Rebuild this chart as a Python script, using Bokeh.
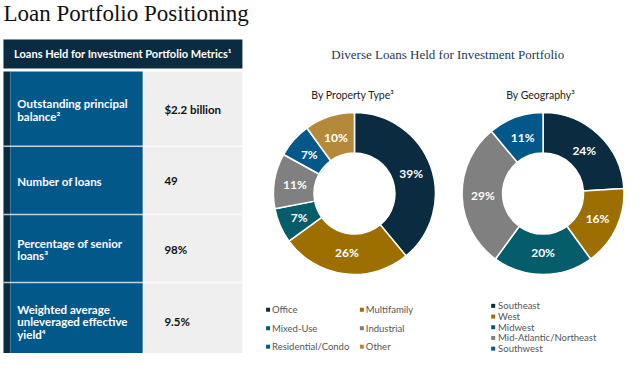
import numpy as np
from bokeh.plotting import figure
from bokeh.models import Range1d
from bokeh.core.properties import value
from bokeh.embed import file_html
from bokeh.resources import INLINE

# ---------------- data ----------------
title = "Loan Portfolio Positioning"
table_header = "Loans Held for Investment Portfolio Metrics\u00b9"
metric_labels = [["Outstanding principal", "balance\u00b2"],
                 ["Number of loans"],
                 ["Percentage of senior", "loans\u00b3"],
                 ["Weighted average", "unleveraged effective", "yield\u2074"]]
metric_values = ["$2.2 billion", "49", "98%", "9.5%"]

chart_title = "Diverse Loans Held for Investment Portfolio"
prop_title = "By Property Type\u00b3"
prop_cats = ["Office", "Multifamily", "Mixed-Use", "Industrial", "Residential/Condo", "Other"]
prop_vals = [39, 26, 7, 11, 7, 10]
geo_title = "By Geography\u00b3"
geo_cats = ["Southeast", "West", "Midwest", "Mid-Atlantic/Northeast", "Southwest"]
geo_vals = [24, 16, 20, 29, 11]

# ---------------- styles ----------------
NAVY = "#0b2b40"
GOLD = "#9c6f00"
TEAL = "#055c6a"
GRAY = "#808080"
BLUE = "#03588a"
LGOLD = "#b5893a"
prop_colors = [NAVY, GOLD, TEAL, GRAY, BLUE, LGOLD]
geo_colors = [NAVY, GOLD, TEAL, GRAY, BLUE]

H = 369.0
def Y(v):
    return H - v

SANS = value("Lato")
SERIF = value("Liberation Serif")

p = figure(width=624, height=353, x_range=Range1d(0, 632), y_range=Range1d(Y(363), Y(0)),
           output_backend="svg", toolbar_location=None, min_border=0)
p.axis.visible = False
p.grid.visible = False
p.outline_line_color = None
p.background_fill_color = "white"
p.border_fill_color = "white"

# title
p.text(x=[3], y=[Y(13)], text=[title], text_font=SERIF, text_font_size="23px",
       text_color="#111111", text_baseline="middle", text_align="left")

# ---------------- table ----------------
p.quad(left=[3], right=[245], top=[Y(40)], bottom=[Y(70)], fill_color=NAVY, line_color=None)
p.text(x=[124], y=[Y(55)], text=[table_header], text_font=SANS, text_font_style="bold",
       text_font_size="11px", text_color="white", text_baseline="middle", text_align="center")

row_edges = [73, 150, 220, 290, 372]
p.quad(left=[3], right=[10], top=[Y(73)], bottom=[Y(372)], fill_color=NAVY, line_color=None)
p.quad(left=[10], right=[144], top=[Y(73)], bottom=[Y(372)], fill_color=BLUE, line_color=None)
p.quad(left=[145], right=[245], top=[Y(73)], bottom=[Y(372)], fill_color="#efefef", line_color=None)
for e in row_edges[1:-1]:
    p.segment(x0=[3], y0=[Y(e)], x1=[245], y1=[Y(e)], line_color="white", line_alpha=0.75, line_width=1.5)

for i, (lines, val) in enumerate(zip(metric_labels, metric_values)):
    c = (row_edges[i] + min(row_edges[i + 1], 369)) / 2.0 + 1
    n = len(lines)
    ys = [Y(c + (k - (n - 1) / 2.0) * 13) for k in range(n)]
    p.text(x=[17] * n, y=ys, text=lines, text_font=SANS, text_font_style="bold",
           text_font_size="11.5px", text_color="white", text_baseline="middle", text_align="left")
    p.text(x=[166], y=[Y(c)], text=[val], text_font=SANS, text_font_style="bold",
           text_font_size="11.5px", text_color="#111111", text_baseline="middle", text_align="left")

# ---------------- donuts ----------------
p.text(x=[453], y=[Y(56)], text=[chart_title], text_font=SERIF, text_font_size="13px",
       text_color="#1d3a50", text_baseline="middle", text_align="center")

def donut(cx, cy, vals, colors, sub, sub_x):
    v = np.array(vals, dtype=float)
    frac = v / v.sum()
    cum = np.concatenate([[0], np.cumsum(frac)])
    start = np.pi / 2 - 2 * np.pi * cum[:-1]
    end = np.pi / 2 - 2 * np.pi * cum[1:]
    p.annular_wedge(x=cx, y=Y(cy), inner_radius=41, outer_radius=82,
                    start_angle=list(start), end_angle=list(end), direction="clock",
                    fill_color=colors, line_color="white", line_width=1.5)
    mid = (start + end) / 2
    r = 61
    p.text(x=list(cx + r * np.cos(mid)), y=list(Y(cy) + r * np.sin(mid)),
           text=[f"{int(x)}%" for x in vals], text_font=SANS, text_font_style="bold",
           text_font_size="12px", text_color="white", text_baseline="middle", text_align="center")
    p.text(x=[sub_x], y=[Y(97)], text=[sub], text_font=SANS, text_font_size="10.5px",
           text_color="#222222", text_baseline="middle", text_align="center")

donut(358.5, 198.5, prop_vals, prop_colors, prop_title, 357)
donut(549.5, 198.5, geo_vals, geo_colors, geo_title, 547)

# ---------------- legends ----------------
leg_x = [271, 366, 271, 366, 271, 366]
leg_y = [318, 318, 337, 337, 356, 356]
p.scatter(x=leg_x, y=[Y(v) for v in leg_y], marker="square", size=4,
          fill_color=prop_colors, line_color=None)
p.text(x=[v + 4 for v in leg_x], y=[Y(v) for v in leg_y], text=prop_cats, text_font=SANS,
       text_font_size="9.5px", text_color="#555555", text_baseline="middle", text_align="left")

g_y = [314, 325, 336, 347, 358]
p.scatter(x=[499] * 5, y=[Y(v) for v in g_y], marker="square", size=4,
          fill_color=geo_colors, line_color=None)
p.text(x=[504] * 5, y=[Y(v) for v in g_y], text=geo_cats, text_font=SANS,
       text_font_size="9.5px", text_color="#555555", text_baseline="middle", text_align="left")

open("out.html", "w").write(file_html(p, INLINE))
